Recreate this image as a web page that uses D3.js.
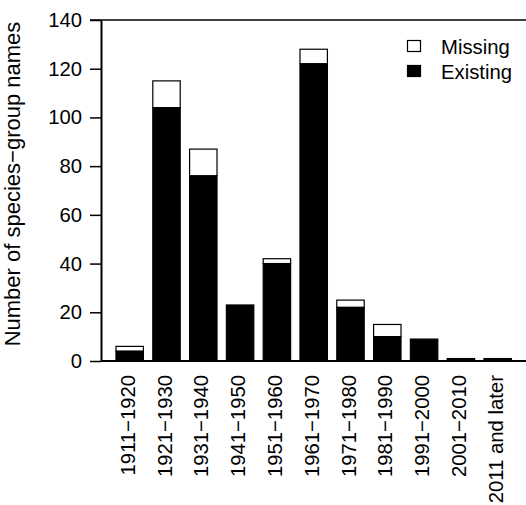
<!DOCTYPE html>
<html>
<head>
<meta charset="utf-8">
<script src="https://cdn.jsdelivr.net/npm/d3@7"></script>
<style>
  body { margin: 0; background: #fff; }
  text { font-family: "Liberation Sans", Arial, sans-serif; }
</style>
</head>
<body>
<div id="chart"></div>
<script>
// Data
const periods = ["1911\u22121920", "1921\u22121930", "1931\u22121940", "1941\u22121950", "1951\u22121960",
                 "1961\u22121970", "1971\u22121980", "1981\u22121990", "1991\u22122000", "2001\u22122010", "2011 and later"];
const existing = [4, 104, 76, 23, 40, 122, 22, 10, 9, 1, 1];
const missing = [2, 11, 11, 0, 2, 6, 3, 5, 0, 0, 0];
const yTicks = [0, 20, 40, 60, 80, 100, 120, 140];
const legendLabels = ["Missing", "Existing"];

const width = 526, height = 505;
const fontSize = 20.3;
const titleSize = 22;

const svg = d3.select("#chart")
    .append("svg")
    .attr("width", width)
    .attr("height", height);

// Scales
const x = d3.scaleBand()
    .domain(periods)
    .range([111.3, 516.1])
    .paddingInner(0.255)
    .paddingOuter(0.1275);

const y = d3.scaleLinear()
    .domain([0, 140])
    .range([361, 20]);

// Top line running to the right edge
svg.append("line")
    .attr("x1", 90).attr("x2", width)
    .attr("y1", y(140)).attr("y2", y(140))
    .attr("stroke", "#000").attr("stroke-width", 1.5);

// Bars: existing (black) then missing (white) stacked on top
const bars = svg.append("g");
periods.forEach((p, i) => {
    const total = existing[i] + missing[i];
    if (missing[i] > 0) {
        bars.append("rect")
            .attr("x", x(p))
            .attr("width", x.bandwidth())
            .attr("y", y(total))
            .attr("height", y(existing[i]) - y(total))
            .attr("fill", "#fff")
            .attr("stroke", "#000")
            .attr("stroke-width", 1.2);
    }
    bars.append("rect")
        .attr("x", x(p))
        .attr("width", x.bandwidth())
        .attr("y", y(existing[i]))
        .attr("height", y(0) - y(existing[i]))
        .attr("fill", "#000")
        .attr("stroke", "#000")
        .attr("stroke-width", 1.2);
});

// Baseline
svg.append("line")
    .attr("x1", 101).attr("x2", width)
    .attr("y1", y(0)).attr("y2", y(0))
    .attr("stroke", "#000").attr("stroke-width", 2);

// Y axis
const yAxis = svg.append("g")
    .attr("transform", "translate(101,0)")
    .call(d3.axisLeft(y).tickValues(yTicks).tickSize(11).tickSizeOuter(0).tickPadding(8));
yAxis.select(".domain").attr("stroke-width", 2);
yAxis.selectAll(".tick line").attr("stroke-width", 1.5);
yAxis.selectAll(".tick text")
    .attr("font-size", fontSize)
    .attr("font-family", "Liberation Sans, Arial, sans-serif")
    .attr("fill", "#000");

// Y axis title
svg.append("text")
    .attr("transform", `translate(20,184) rotate(-90)`)
    .attr("text-anchor", "middle")
    .attr("font-size", titleSize)
    .text("Number of species\u2212group names");

// X labels, rotated
svg.append("g").selectAll("text")
    .data(periods)
    .enter()
    .append("text")
    .attr("transform", d => `translate(${x(d) + x.bandwidth() / 2 + 5},375) rotate(-90)`)
    .attr("text-anchor", "end")
    .attr("font-size", fontSize)
    .text(d => d);

// Legend
const legend = svg.append("g");
legendLabels.forEach((lab, i) => {
    legend.append("rect")
        .attr("x", 407.5)
        .attr("y", 40.5 + i * 25)
        .attr("width", 13)
        .attr("height", 11)
        .attr("fill", i === 0 ? "#fff" : "#000")
        .attr("stroke", "#000")
        .attr("stroke-width", 1.2);
    legend.append("text")
        .attr("x", 441)
        .attr("y", 54 + i * 25)
        .attr("font-size", fontSize)
        .text(lab);
});
</script>
</body>
</html>
